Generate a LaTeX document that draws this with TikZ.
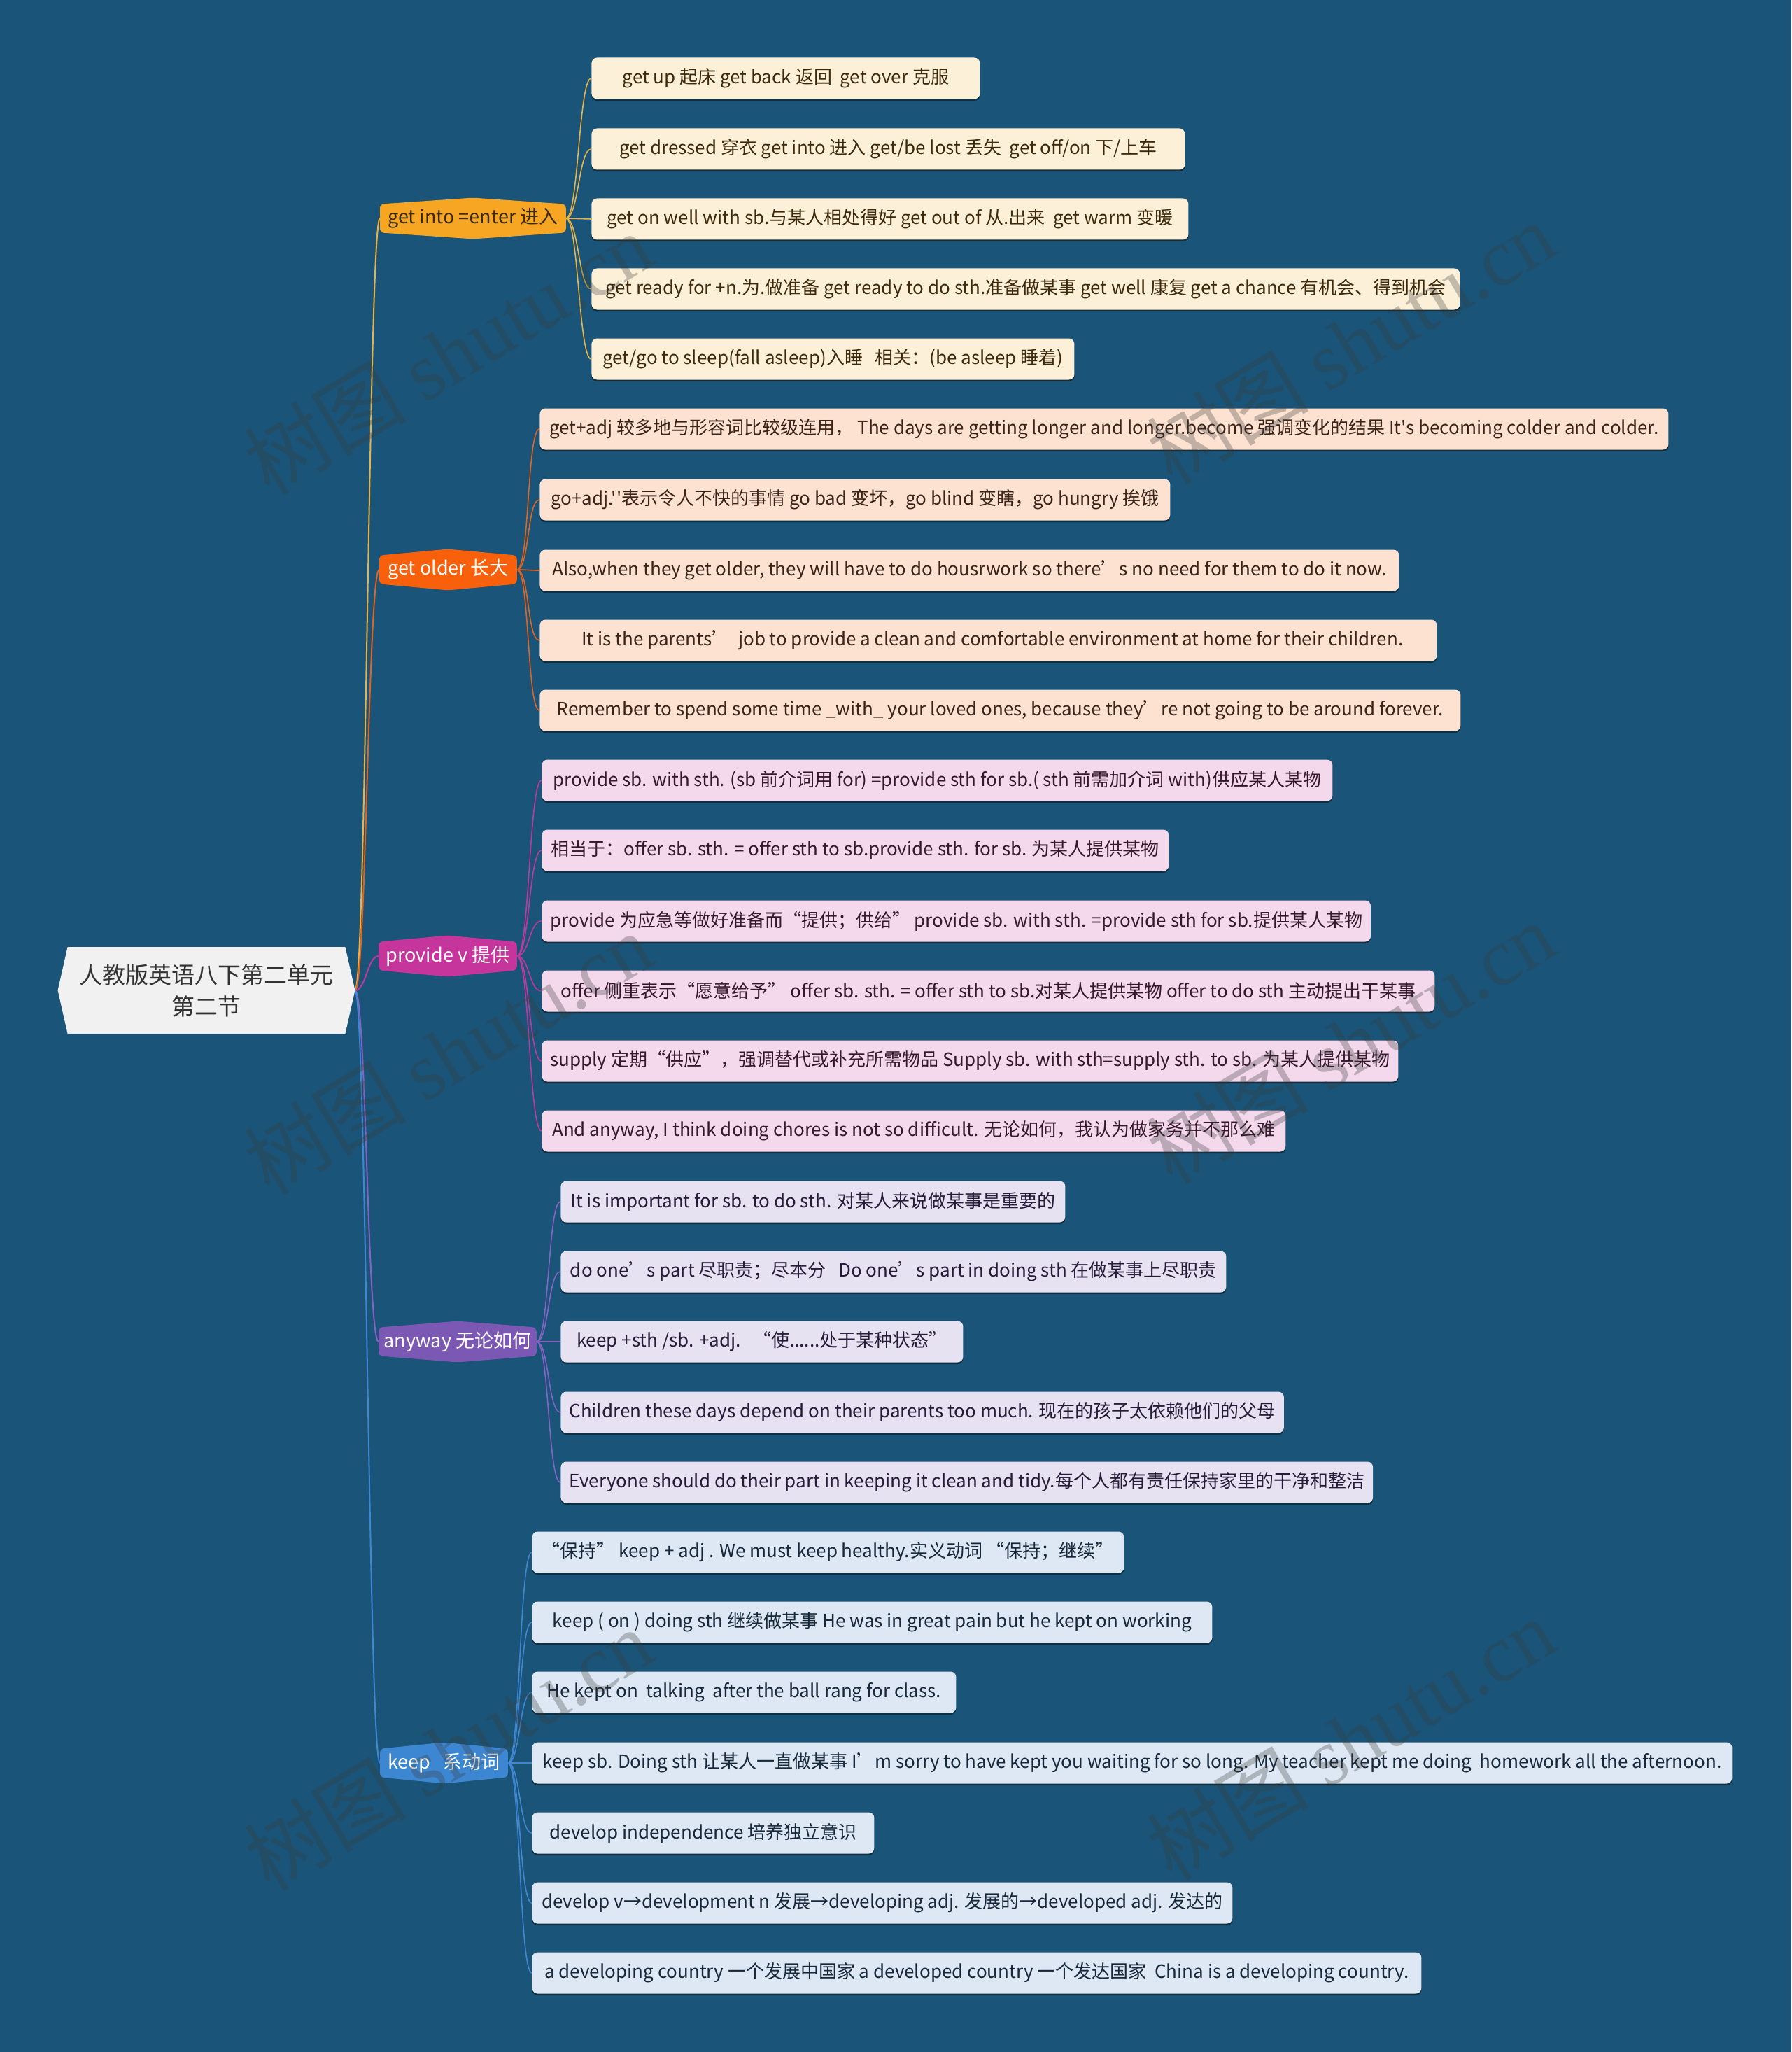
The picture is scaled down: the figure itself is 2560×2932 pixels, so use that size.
\documentclass[tikz,border=0pt]{standalone}
\usepackage{fontspec}
\setmainfont{Noto Sans CJK SC}
\newfontfamily\cjkf{Noto Sans CJK SC}
\newfontfamily\wmserif{Liberation Serif}
\usetikzlibrary{shadows}
\pgfdeclarelayer{back}
\pgfdeclarelayer{bg}
\pgfsetlayers{back,bg,main}
\definecolor{bgc}{HTML}{1A5478}
\definecolor{rootfill}{HTML}{F1F1F1}
\definecolor{roottext}{HTML}{333333}
\definecolor{brA}{HTML}{F6A623}
\definecolor{brB}{HTML}{F8600C}
\definecolor{brC}{HTML}{C6359B}
\definecolor{brD}{HTML}{7B58B4}
\definecolor{brE}{HTML}{3D86D2}
\definecolor{lnA}{HTML}{E9B445}
\definecolor{lnB}{HTML}{E2631C}
\definecolor{lnC}{HTML}{BC3A9C}
\definecolor{lnD}{HTML}{8662C4}
\definecolor{lnE}{HTML}{3F87D2}
\definecolor{fA}{HTML}{FDF0D8}
\definecolor{fB}{HTML}{FDE2D2}
\definecolor{fC}{HTML}{F4D8EC}
\definecolor{fD}{HTML}{E7E2F1}
\definecolor{fE}{HTML}{DDE8F4}
\definecolor{tA}{HTML}{3D2A0C}
\definecolor{tB}{HTML}{3A2418}
\definecolor{tC}{HTML}{36182C}
\definecolor{tD}{HTML}{241C38}
\definecolor{tE}{HTML}{17283A}
\definecolor{wmc}{HTML}{3A3A3A}
\newcommand\branchshape[2]{%
  \fill[#2,rounded corners=3pt] ([yshift=-4.5pt]#1.north west) -- (#1.north) -- ([yshift=-4.5pt]#1.north east) -- ([yshift=4.5pt]#1.south east) -- (#1.south) -- ([yshift=4.5pt]#1.south west) -- cycle;}
\begin{document}
\begin{tikzpicture}[x=0.5pt,y=-0.5pt,
  leaf/.style={rectangle, rounded corners=4pt, minimum height=29.5pt, inner xsep=6pt, inner ysep=0pt, anchor=west,
    font=\cjkf\fontsize{13pt}{15pt}\selectfont,
    drop shadow={shadow xshift=0pt, shadow yshift=-1.3pt, opacity=0.45, fill=black}},
  lA/.style={leaf, fill=fA, text=tA},
  lB/.style={leaf, fill=fB, text=tB},
  lC/.style={leaf, fill=fC, text=tC},
  lD/.style={leaf, fill=fD, text=tD},
  lE/.style={leaf, fill=fE, text=tE},
  branch/.style={minimum height=29pt, inner sep=0pt, anchor=west, font=\cjkf\fontsize{13.5pt}{15pt}\selectfont},
  trunk/.style={line width=1pt},
  twig/.style={line width=0.8pt},
  wm/.style={rotate=31, text=wmc, opacity=0.3, font=\fontsize{58pt}{58pt}\selectfont}
]
\begin{pgfonlayer}{back}
\fill[bgc] (0,0) rectangle (2560,2932);
\end{pgfonlayer}
\useasboundingbox (0,0) rectangle (2560,2932);

% root
\node[minimum width=212pt, minimum height=61.5pt, inner sep=0pt, align=center, text=roottext,
      font=\cjkf\fontsize{16.5pt}{22.5pt}\selectfont] (root) at (295,1415) {人教版英语八下第二单元\\第二节};

% branches
\node[branch, minimum width=132.5pt, text=tA] (bA) at (543,312) {get into =enter 进入};
\node[branch, minimum width=98pt, text=white] (bB) at (542,814) {get older 长大};
\node[branch, minimum width=98.5pt, text=white] (bC) at (541,1366) {provide v 提供};
\node[branch, minimum width=112.5pt, text=white] (bD) at (541,1917) {anyway 无论如何};
\node[branch, minimum width=91pt, text=white] (bE) at (543,2519) {keep\ \ \ 系动词};

% group A
\node[lA, minimum width=277.5pt] (a1) at (845,112) {get up 起床 get back 返回\ \ get over 克服};
\node[lA, minimum width=424pt] (a2) at (845,213) {get dressed 穿衣 get into 进入 get/be lost 丢失\ \ get off/on 下/上车};
\node[lA, minimum width=426.5pt] (a3) at (845,313) {get on well with sb.与某人相处得好 get out of 从.出来\ \ get warm 变暖};
\node[lA, minimum width=620.5pt] (a4) at (845,413) {get ready for +n.为.做准备 get ready to do sth.准备做某事 get well 康复 get a chance 有机会、得到机会};
\node[lA, minimum width=345pt] (a5) at (845,513) {get/go to sleep(fall asleep)入睡\ \ \ 相关：(be asleep 睡着)};

% group B
\node[lB, minimum width=806.5pt] (b1) at (771,613) {get+adj 较多地与形容词比较级连用，\ The days are getting longer and longer.become 强调变化的结果 It's becoming colder and colder.};
\node[lB, minimum width=450.5pt] (b2) at (771,714) {go+adj.''表示令人不快的事情 go bad 变坏，go blind 变瞎，go hungry 挨饿};
\node[lB, minimum width=614pt] (b3) at (771,815) {Also,when they get older, they will have to do housrwork so there’s no need for them to do it now.};
\node[lB, minimum width=641pt] (b4) at (771,915) {\ \ It is the parents’\ \ job to provide a clean and comfortable environment at home for their children.};
\node[lB, minimum width=658pt] (b5) at (771,1015) {Remember to spend some time \_with\_ your loved ones, because they’re not going to be around forever.};

% group C
\node[lC, minimum width=565pt] (c1) at (774,1115) {provide sb. with sth. (sb 前介词用 for) =provide sth for sb.( sth 前需加介词 with)供应某人某物};
\node[lC, minimum width=448pt] (c2) at (774,1215) {相当于：offer sb. sth. = offer sth to sb.provide sth. for sb. 为某人提供某物};
\node[lC, minimum width=589pt] (c3) at (774,1316) {provide 为应急等做好准备而“提供；供给”\ provide sb. with sth. =provide sth for sb.提供某人某物};
\node[lC, minimum width=638pt] (c4) at (774,1416) {offer 侧重表示“愿意给予”\ offer sb. sth. = offer sth to sb.对某人提供某物 offer to do sth 主动提出干某事};
\node[lC, minimum width=609pt] (c5) at (774,1516) {supply 定期“供应”，强调替代或补充所需物品 Supply sb. with sth=supply sth. to sb. 为某人提供某物};
\node[lC, minimum width=531.5pt] (c6) at (774,1616) {And anyway, I think doing chores is not so difficult. 无论如何，我认为做家务并不那么难};

% group D
\node[lD, minimum width=360.5pt] (d1) at (801,1717) {It is important for sb. to do sth. 对某人来说做某事是重要的};
\node[lD, minimum width=475.5pt] (d2) at (801,1817) {do one’s part 尽职责；尽本分\ \ \ Do one’s part in doing sth 在做某事上尽职责};
\node[lD, minimum width=287.5pt] (d3) at (801,1917) {keep +sth /sb. +adj.\ \ \ “使......处于某种状态”};
\node[lD, minimum width=512.5pt] (d4) at (801,2018) {Children these days depend on their parents too much. 现在的孩子太依赖他们的父母};
\node[lD, minimum width=573pt] (d5) at (801,2118) {Everyone should do their part in keeping it clean and tidy.每个人都有责任保持家里的干净和整洁};

% group E
\node[lE, minimum width=423pt] (e1) at (760,2218) {“保持”\ keep + adj . We must keep healthy.实义动词\ “保持；继续”};
\node[lE, minimum width=486pt] (e2) at (760,2318) {keep ( on ) doing sth 继续做某事 He was in great pain but he kept on working};
\node[lE, minimum width=303pt] (e3) at (760,2418) {He kept on\ \ talking\ \ after the ball rang for class.};
\node[lE, minimum width=857.5pt] (e4) at (760,2519) {keep sb. Doing sth 让某人一直做某事 I’m sorry to have kept you waiting for so long. My teacher kept me doing\ \ homework all the afternoon.};
\node[lE, minimum width=244.5pt] (e5) at (760,2619) {develop independence 培养独立意识};
\node[lE, minimum width=500.5pt] (e6) at (760,2719) {develop v→development n 发展→developing adj. 发展的→developed adj. 发达的};
\node[lE, minimum width=635.5pt] (e7) at (760,2819) {a developing country 一个发展中国家 a developed country 一个发达国家\ \ China is a developing country.};

\begin{pgfonlayer}{bg}
  % trunk connectors
  \draw[trunk, lnA] (root.east) .. controls +(16,0) and +(-16,0) .. (bA.west);
  \draw[trunk, lnB] (root.east) .. controls +(16,0) and +(-16,0) .. (bB.west);
  \draw[trunk, lnC] (root.east) .. controls +(16,0) and +(-16,0) .. (bC.west);
  \draw[trunk, lnD] (root.east) .. controls +(16,0) and +(-16,0) .. (bD.west);
  \draw[trunk, lnE] (root.east) .. controls +(16,0) and +(-16,0) .. (bE.west);
  % twigs
  \foreach \n in {a1,a2,a3,a4,a5}
    \draw[twig, lnA] (bA.east) .. controls +(18,0) and +(-18,0) .. (\n.west);
  \foreach \n in {b1,b2,b3,b4,b5}
    \draw[twig, lnB] (bB.east) .. controls +(18,0) and +(-18,0) .. (\n.west);
  \foreach \n in {c1,c2,c3,c4,c5,c6}
    \draw[twig, lnC] (bC.east) .. controls +(18,0) and +(-18,0) .. (\n.west);
  \foreach \n in {d1,d2,d3,d4,d5}
    \draw[twig, lnD] (bD.east) .. controls +(18,0) and +(-18,0) .. (\n.west);
  \foreach \n in {e1,e2,e3,e4,e5,e6,e7}
    \draw[twig, lnE] (bE.east) .. controls +(18,0) and +(-18,0) .. (\n.west);
  % root shape
  \fill[rootfill] (root.west) -- ([xshift=7pt]root.north west) -- ([xshift=-7pt]root.north east) -- (root.east)
     -- ([xshift=-7pt]root.south east) -- ([xshift=7pt]root.south west) -- cycle;
  % branch shapes
  \branchshape{bA}{brA}
  \branchshape{bB}{brB}
  \branchshape{bC}{brC}
  \branchshape{bD}{brD}
  \branchshape{bE}{brE}
\end{pgfonlayer}

% watermarks
\node[wm] (w1) at (640,505) {树图 {\wmserif shutu.cn}};
\node[wm] (w2) at (1930,490) {树图 {\wmserif shutu.cn}};
\node[wm] (w3) at (640,1505) {树图 {\wmserif shutu.cn}};
\node[wm] (w4) at (1930,1490) {树图 {\wmserif shutu.cn}};
\node[wm] (w5) at (640,2500) {树图 {\wmserif shutu.cn}};
\node[wm] (w6) at (1930,2485) {树图 {\wmserif shutu.cn}};
\end{tikzpicture}
\end{document}
